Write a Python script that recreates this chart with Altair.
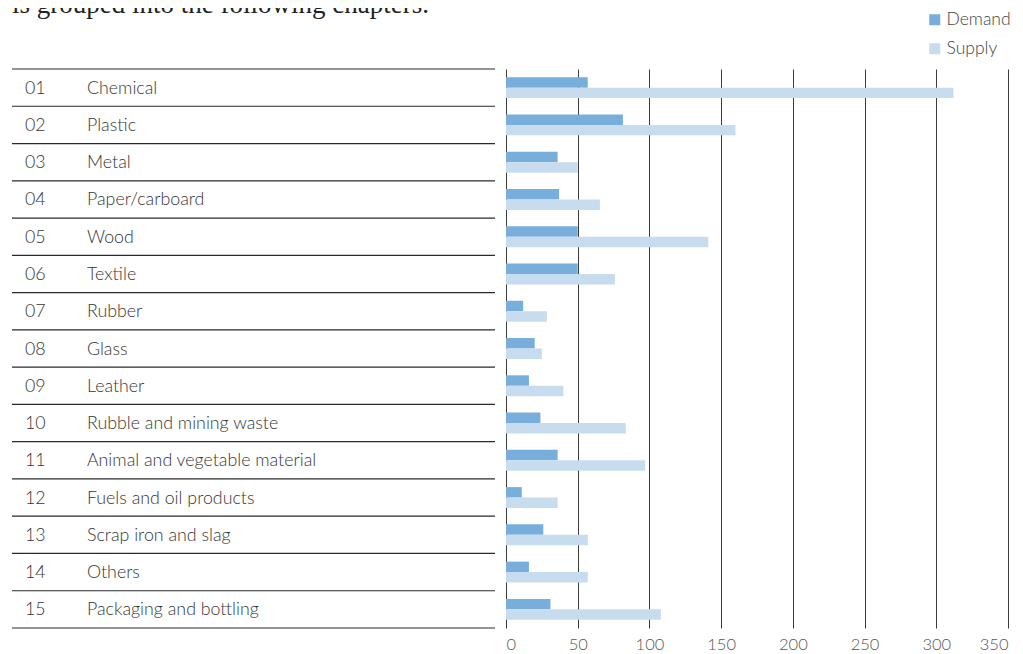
import altair as alt
import pandas as pd

codes = ["01", "02", "03", "04", "05", "06", "07", "08", "09", "10", "11", "12", "13", "14", "15"]
categories = ["Chemical", "Plastic", "Metal", "Paper/carboard", "Wood", "Textile", "Rubber", "Glass",
              "Leather", "Rubble and mining waste", "Animal and vegetable material",
              "Fuels and oil products", "Scrap iron and slag", "Others", "Packaging and bottling"]
demand = [57, 81.5, 36, 37, 50, 50, 12, 20, 16, 24, 36, 11, 26, 16, 31]
supply = [312, 160, 50, 65.5, 141, 76, 28.5, 25, 40, 83.5, 97, 36, 57, 57, 108]
series = ["Demand", "Supply"]
ticks = [0, 50, 100, 150, 200, 250, 300, 350]
heading = "is grouped into the following chapters."

rows = pd.DataFrame({"Code": codes, "Category": categories})
bars = pd.DataFrame(
    [{"Category": c, "Series": "Demand", "Value": d} for c, d in zip(categories, demand)]
    + [{"Category": c, "Series": "Supply", "Value": s} for c, s in zip(categories, supply)]
)

FONT = "Lato"
TXT = "#363636"

yscale = alt.Scale(domain=categories, paddingInner=0, paddingOuter=0)

bar_layer = alt.Chart(bars).mark_bar(orient="horizontal").encode(
    y=alt.Y("Category:N", scale=yscale, axis=None),
    yOffset=alt.YOffset("Series:N", scale=alt.Scale(domain=series, paddingInner=0, paddingOuter=0.78)),
    x=alt.X("Value:Q", scale=alt.Scale(domain=[0, 350], nice=False, zero=True),
            axis=alt.Axis(values=ticks, grid=True, gridColor="#3c3c3c", gridWidth=1, gridOpacity=1,
                          domain=False, ticks=False, labelFontSize=16.5, labelFont=FONT,
                          labelFontWeight=300, labelColor="#555", labelPadding=8, title=None,
                          labelFlush=True)),
    color=alt.Color("Series:N", scale=alt.Scale(domain=series, range=["#78aedb", "#c8dcef"]),
                    legend=alt.Legend(title=None, orient="none", legendX=420, legendY=-58,
                                      symbolType="square", symbolSize=121, symbolStrokeWidth=0,
                                      labelFontSize=17.5, labelFont=FONT, labelFontWeight=300,
                                      labelColor="#444", rowPadding=10, labelOffset=3)),
)

code_layer = alt.Chart(rows).mark_text(align="left", baseline="middle", font=FONT, fontSize=17.8,
                                       fontWeight=300, color=TXT, dy=1).encode(
    y=alt.Y("Category:N", scale=yscale, axis=None),
    x=alt.value(-481),
    text="Code:N",
)

name_layer = alt.Chart(rows).mark_text(align="left", baseline="middle", font=FONT, fontSize=17.8,
                                       fontWeight=300, color=TXT, dy=1).encode(
    y=alt.Y("Category:N", scale=yscale, axis=None),
    x=alt.value(-419),
    text="Category:N",
)

bottom_rules = alt.Chart(rows).mark_rule(color="#2a2a2a", strokeWidth=1.2).encode(
    y=alt.Y("Category:N", scale=yscale, axis=None, bandPosition=1),
    x=alt.value(-494),
    x2=alt.value(-11),
)

top_rule = alt.Chart(rows.iloc[[0]]).mark_rule(color="#2a2a2a", strokeWidth=1.2).encode(
    y=alt.Y("Category:N", scale=yscale, axis=None, bandPosition=0),
    x=alt.value(-494),
    x2=alt.value(-11),
)

head_layer = alt.Chart(pd.DataFrame({"t": [heading]})).mark_text(
    align="left", baseline="alphabetic", font="Liberation Serif", fontSize=27, color="#222"
).encode(
    x=alt.value(-494),
    y=alt.value(-56),
    text="t:N",
)

chart = alt.layer(bar_layer, bottom_rules, top_rule, code_layer, name_layer, head_layer).properties(
    width=502,
    height=559,
    autosize=alt.AutoSizeParams(type="none"),
    padding={"left": 498, "top": 61, "right": 7, "bottom": 26},
).configure_view(stroke=None)

chart.save("out.html", embed_options={"renderer": "svg", "actions": False})
